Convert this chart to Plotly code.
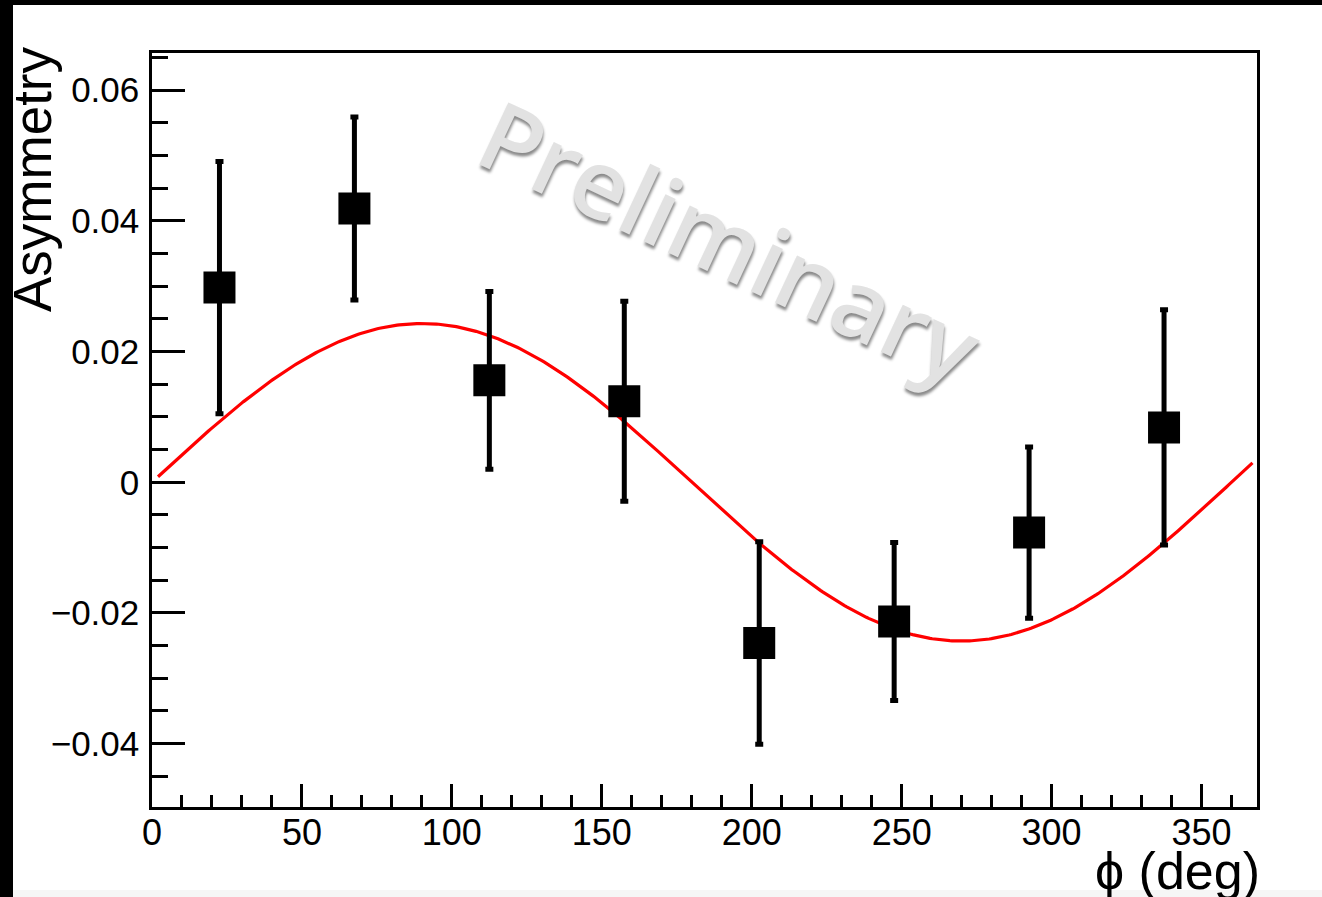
import numpy as np
import plotly.graph_objects as go

# ---- data ----
phi_deg = [22.5, 67.5, 112.5, 157.5, 202.5, 247.5, 292.5, 337.5]
asym = [0.0298, 0.0419, 0.0156, 0.0124, -0.0246, -0.0213, -0.0077, 0.0084]
asym_err = [0.0193, 0.0140, 0.0136, 0.0153, 0.0155, 0.0121, 0.0131, 0.0180]

# fit curve: A * sin(phi)
fit_amp = 0.0243
fit_phi_min, fit_phi_max = 2.0, 367.0

x_tickvals = [0, 50, 100, 150, 200, 250, 300, 350]
y_tickvals = [-0.04, -0.02, 0, 0.02, 0.04, 0.06]
y_ticktext = ["\u22120.04", "\u22120.02", "0", "0.02", "0.04", "0.06"]

# ---- figure geometry ----
W, H = 1322, 897
ML, MR, MT, MB = 152, 65, 53, 90
PW, PH = W - ML - MR, H - MT - MB


def px_x(p):
    return (p - ML) / PW


def px_y(p):
    return (H - MB - p) / PH


phi_fit = np.linspace(fit_phi_min, fit_phi_max, 500)
asym_fit = fit_amp * np.sin(np.radians(phi_fit))

fig = go.Figure()
fig.add_trace(go.Scatter(
    x=phi_fit, y=asym_fit, mode="lines",
    line=dict(color="#ff0000", width=3.2), hoverinfo="skip", showlegend=False))
fig.add_trace(go.Scatter(
    x=phi_deg, y=asym, mode="markers",
    marker=dict(symbol="square", size=32, color="black"),
    error_y=dict(type="data", array=asym_err, visible=True,
                 color="black", thickness=5, width=4),
    showlegend=False))

font_axis = "Liberation Sans, Arial, sans-serif"

fig.update_layout(
    width=W, height=H, autosize=False,
    margin=dict(l=ML, r=MR, t=MT, b=MB, pad=0),
    paper_bgcolor="white", plot_bgcolor="white",
    xaxis=dict(
        range=[0, 368.5], showgrid=False, zeroline=False,
        showline=True, linecolor="black", linewidth=2.5, mirror=True,
        ticks="inside", ticklen=23, tickwidth=2.5, tickcolor="black",
        tickvals=x_tickvals,
        minor=dict(dtick=10, tick0=0, ticks="inside", ticklen=12,
                   tickwidth=2.5, tickcolor="black", showgrid=False),
        tickfont=dict(family=font_axis, size=36, color="black"),
        ticklabelstandoff=-8,
    ),
    yaxis=dict(
        range=[-0.0497, 0.0657], showgrid=False, zeroline=False,
        showline=True, linecolor="black", linewidth=2.5, mirror=True,
        ticks="inside", ticklen=33, tickwidth=2.5, tickcolor="black",
        tickvals=y_tickvals, ticktext=y_ticktext,
        minor=dict(dtick=0.005, tick0=0, ticks="inside", ticklen=16,
                   tickwidth=2.5, tickcolor="black", showgrid=False),
        tickfont=dict(family=font_axis, size=35, color="black"),
        ticklabelstandoff=3,
    ),
    annotations=[
        dict(text="Asymmetry", textangle=-90, xref="paper", yref="paper",
             x=px_x(33), y=px_y(44), xanchor="center", yanchor="top",
             showarrow=False,
             font=dict(family=font_axis, size=53, color="black")),
        dict(text="\u03d5 (deg)", xref="paper", yref="paper",
             x=px_x(1262), y=px_y(871), xanchor="right", yanchor="middle",
             showarrow=False,
             font=dict(family=font_axis, size=52, color="black")),
        dict(text="Preliminary", textangle=25, xref="paper", yref="paper",
             x=px_x(731), y=px_y(240), xanchor="center", yanchor="middle",
             showarrow=False,
             font=dict(family="Open Sans, sans-serif", size=96, weight=600,
                       color="#e2e2e2", shadow="2px 3px 3px #8a8a8a")),
    ],
    shapes=[
        dict(type="rect", xref="paper", yref="paper",
             x0=px_x(0), x1=px_x(13), y0=px_y(H), y1=px_y(0),
             fillcolor="black", line=dict(width=0), layer="above"),
        dict(type="rect", xref="paper", yref="paper",
             x0=px_x(0), x1=px_x(W), y0=px_y(5), y1=px_y(0),
             fillcolor="black", line=dict(width=0), layer="above"),
        dict(type="rect", xref="paper", yref="paper",
             x0=px_x(13), x1=px_x(W), y0=px_y(H), y1=px_y(890),
             fillcolor="#f6f6f6", line=dict(width=0), layer="below"),
    ],
)

fig.write_html("out.html")
